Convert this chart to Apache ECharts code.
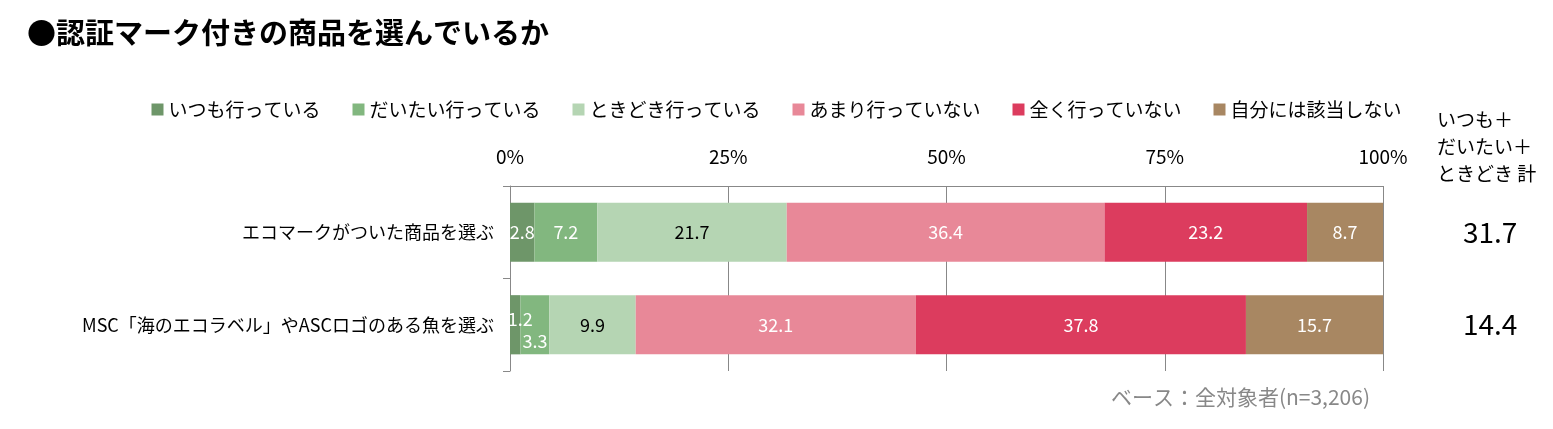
<!DOCTYPE html>
<html>
<head>
<meta charset="utf-8">
<script src="https://cdn.jsdelivr.net/npm/echarts@6/dist/echarts.min.js"></script>
<style>
html,body{margin:0;padding:0;background:#fff;}
#chart{width:1553px;height:429px;}
</style>
</head>
<body>
<div id="chart"></div>
<script>
var categories = ['エコマークがついた商品を選ぶ', 'MSC「海のエコラベル」やASCロゴのある魚を選ぶ'];
var seriesNames = ['いつも行っている', 'だいたい行っている', 'ときどき行っている', 'あまり行っていない', '全く行っていない', '自分には該当しない'];
var itsumo = [2.8, 1.2];
var daitai = [7.2, 3.3];
var tokidoki = [21.7, 9.9];
var amari = [36.4, 32.1];
var mattaku = [23.2, 37.8];
var gaitou = [8.7, 15.7];
var totals = [31.7, 14.4];
var xTicks = [0, 25, 50, 75, 100];

var colors = ['#6E9669', '#82B77F', '#B5D5B3', '#E88898', '#DC3C5E', '#A88762'];
var labelColors = ['#fff', '#fff', '#000', '#fff', '#fff', '#fff'];
var font = '"Noto Sans CJK JP", "Noto Sans", sans-serif';

var values = [itsumo, daitai, tokidoki, amari, mattaku, gaitou];

// small segments in the 2nd row: move labels off-center like the original
var labelShift = {'0_1': [5, -6], '1_1': [0, 16]};

var chart = echarts.init(document.getElementById('chart'));

var series = values.map(function (arr, si) {
  return {
    name: seriesNames[si],
    type: 'bar',
    stack: 'total',
    barCategoryGap: '36%',
    itemStyle: {color: colors[si]},
    label: {
      show: true,
      position: 'inside',
      color: labelColors[si],
      fontFamily: font,
      fontSize: 18
    },
    data: arr.map(function (v, di) {
      var shift = labelShift[si + '_' + di];
      if (shift) {
        return {value: v, label: {offset: shift}};
      }
      return v;
    })
  };
});

// totals column on the right
series.push({
  name: 'total',
  type: 'bar',
  stack: 'total',
  itemStyle: {color: 'transparent'},
  label: {
    show: true,
    position: 'right',
    distance: 80,
    color: '#000',
    fontFamily: font,
    fontSize: 28,
    formatter: function (p) { return totals[p.dataIndex].toFixed(1); }
  },
  data: totals.map(function () { return 0; })
});

var option = {
  animation: false,
  textStyle: {fontFamily: font},
  title: {
    text: '●認証マーク付きの商品を選んでいるか',
    left: 22,
    top: 13,
    textStyle: {fontFamily: font, fontSize: 29, fontWeight: 'bold', color: '#000'}
  },
  legend: {
    data: seriesNames,
    left: 'center',
    top: 95,
    itemWidth: 12,
    itemHeight: 12,
    itemGap: 32,
    icon: 'rect',
    textStyle: {fontFamily: font, fontSize: 19, color: '#000'}
  },
  grid: {left: 510, right: 170, top: 186, bottom: 58},
  xAxis: {
    type: 'value',
    position: 'top',
    min: xTicks[0],
    max: xTicks[xTicks.length - 1],
    interval: 25,
    axisLine: {show: true, lineStyle: {color: '#888'}},
    axisTick: {show: false},
    splitLine: {show: true, lineStyle: {color: '#888'}},
    axisLabel: {
      formatter: '{value}%',
      fontFamily: font,
      fontSize: 19,
      color: '#000',
      margin: 20
    }
  },
  yAxis: {
    type: 'category',
    inverse: true,
    data: categories,
    axisLine: {show: true, lineStyle: {color: '#888'}},
    axisTick: {show: true, length: 7, lineStyle: {color: '#888'}},
    axisLabel: {fontFamily: font, fontSize: 18, color: '#000', margin: 16}
  },
  graphic: [
    {
      type: 'text',
      left: 1437,
      top: 106,
      style: {
        text: 'いつも＋\nだいたい＋\nときどき 計',
        fontFamily: font,
        fontSize: 19,
        lineHeight: 27,
        fill: '#000',
        align: 'center'
      }
    },
    {
      type: 'text',
      right: 183,
      top: 387,
      style: {
        text: 'ベース：全対象者(n=3,206)',
        fontFamily: font,
        fontSize: 21,
        fill: '#888'
      }
    }
  ],
  series: series
};

chart.setOption(option);
</script>
</body>
</html>
